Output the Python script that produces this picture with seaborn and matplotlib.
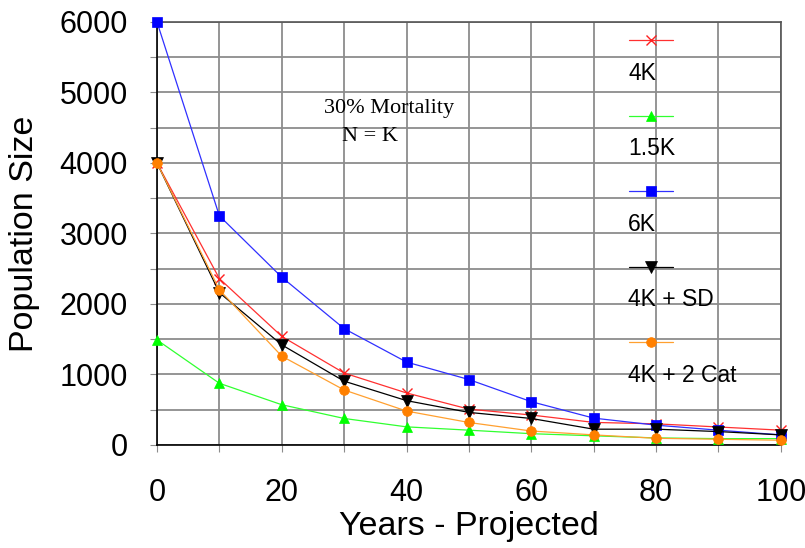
import numpy as np
import pandas as pd
import matplotlib
matplotlib.use("Agg")
import matplotlib.pyplot as plt
import matplotlib.transforms as mtransforms
import seaborn as sns
from matplotlib.lines import Line2D
from matplotlib.ticker import MultipleLocator

# Data
years = [0, 10, 20, 30, 40, 50, 60, 70, 80, 90, 100]
pop_4k = [4000, 2360, 1540, 1020, 738, 508, 425, 320, 300, 255, 210]
pop_15k = [1490, 875, 571, 376, 257, 210, 160, 130, 100, 90, 90]
pop_6k = [6000, 3250, 2380, 1650, 1176, 928, 614, 381, 281, 210, 143]
pop_4k_sd = [4000, 2160, 1420, 905, 629, 462, 376, 224, 224, 190, 143]
pop_4k_cat = [4000, 2200, 1260, 780, 481, 319, 198, 143, 95, 81, 67]

labels = ["4K", "1.5K", "6K", "4K + SD", "4K + 2 Cat"]
series = [pop_4k, pop_15k, pop_6k, pop_4k_sd, pop_4k_cat]
line_colors = ["#ff3030", "#30ff30", "#3030ff", "#000000", "#ffa030"]
marker_colors = ["#ff2020", "#00ff00", "#0000ff", "#000000", "#ff8000"]
markers = ["x", "^", "s", "v", "o"]
msizes = [7, 7, 7, 8, 7]

df = pd.DataFrame({"year": years})
for lab, vals in zip(labels, series):
    df[lab] = vals

sns.set_style("white")
plt.rcParams["font.family"] = ["Liberation Sans", "DejaVu Sans"]
plt.rcParams["text.color"] = "black"
plt.rcParams["axes.labelcolor"] = "black"
plt.rcParams["xtick.labelcolor"] = "black"
plt.rcParams["ytick.labelcolor"] = "black"

fig = plt.figure(figsize=(8.05, 5.48), dpi=100)
ax = fig.add_axes([0.195, 0.188, 0.775, 0.772])

for lab, lc, mc, mk, ms in zip(labels, line_colors, marker_colors, markers, msizes):
    sns.lineplot(data=df, x="year", y=lab, ax=ax, color=lc, marker=mk,
                 markersize=ms, markerfacecolor=mc, markeredgecolor=mc,
                 markeredgewidth=1.0 if mk == "x" else 0.5, linewidth=0.9,
                 legend=False, zorder=3, clip_on=False)

ax.set_xlim(0, 100)
ax.set_ylim(0, 6000)
ax.xaxis.set_major_locator(MultipleLocator(20))
ax.xaxis.set_minor_locator(MultipleLocator(10))
ax.yaxis.set_major_locator(MultipleLocator(1000))
ax.yaxis.set_minor_locator(MultipleLocator(500))
ax.grid(True, which="both", color="#8c8c8c", linewidth=1.3, zorder=0)
ax.set_axisbelow(True)

ax.tick_params(axis="both", which="both", direction="out", length=5,
               width=0.8, color="#8c8c8c", labelsize=22, labelcolor="black")
ax.tick_params(axis="x", which="both", bottom=True, pad=19)
ax.tick_params(axis="y", which="both", left=True, pad=16)

# the last x label is nudged left so it stays inside the figure
fig.canvas.draw()
last = ax.get_xticklabels()[-1]
last.set_transform(last.get_transform() +
                   mtransforms.ScaledTranslation(-9 / 100, 0, fig.dpi_scale_trans))

for side in ["left", "bottom"]:
    ax.spines[side].set_color("black")
    ax.spines[side].set_linewidth(1.2)
for side in ["top", "right"]:
    ax.spines[side].set_color("#555555")
    ax.spines[side].set_linewidth(1.2)

ax.set_xlabel("Years - Projected", fontsize=24.5, labelpad=2, color="black")
ax.set_ylabel("Population Size", fontsize=24.5, labelpad=14, color="black")

# annotation
ax.text(0.268, 0.795, "30% Mortality", transform=ax.transAxes,
        family=["Liberation Serif"], fontsize=16, va="center", ha="left")
ax.text(0.297, 0.728, "N = K", transform=ax.transAxes,
        family=["Liberation Serif"], fontsize=16, va="center", ha="left")

# legend: handle above its label
step = 0.1785
for i, (lab, lc, mc, mk, ms) in enumerate(zip(labels, line_colors, marker_colors, markers, msizes)):
    yh = 0.957 - i * step
    ax.add_line(Line2D([0.757, 0.792, 0.827], [yh, yh, yh], transform=ax.transAxes,
                       color=lc, linewidth=0.9, marker=mk, markevery=[1],
                       markersize=ms, markerfacecolor=mc, markeredgecolor=mc,
                       markeredgewidth=1.0 if mk == "x" else 0.5, zorder=4,
                       clip_on=False))
    ax.text(0.755, yh - 0.078, lab, transform=ax.transAxes, fontsize=16.5,
            va="center", ha="left", zorder=4)

fig.savefig("out.png", dpi=100)
